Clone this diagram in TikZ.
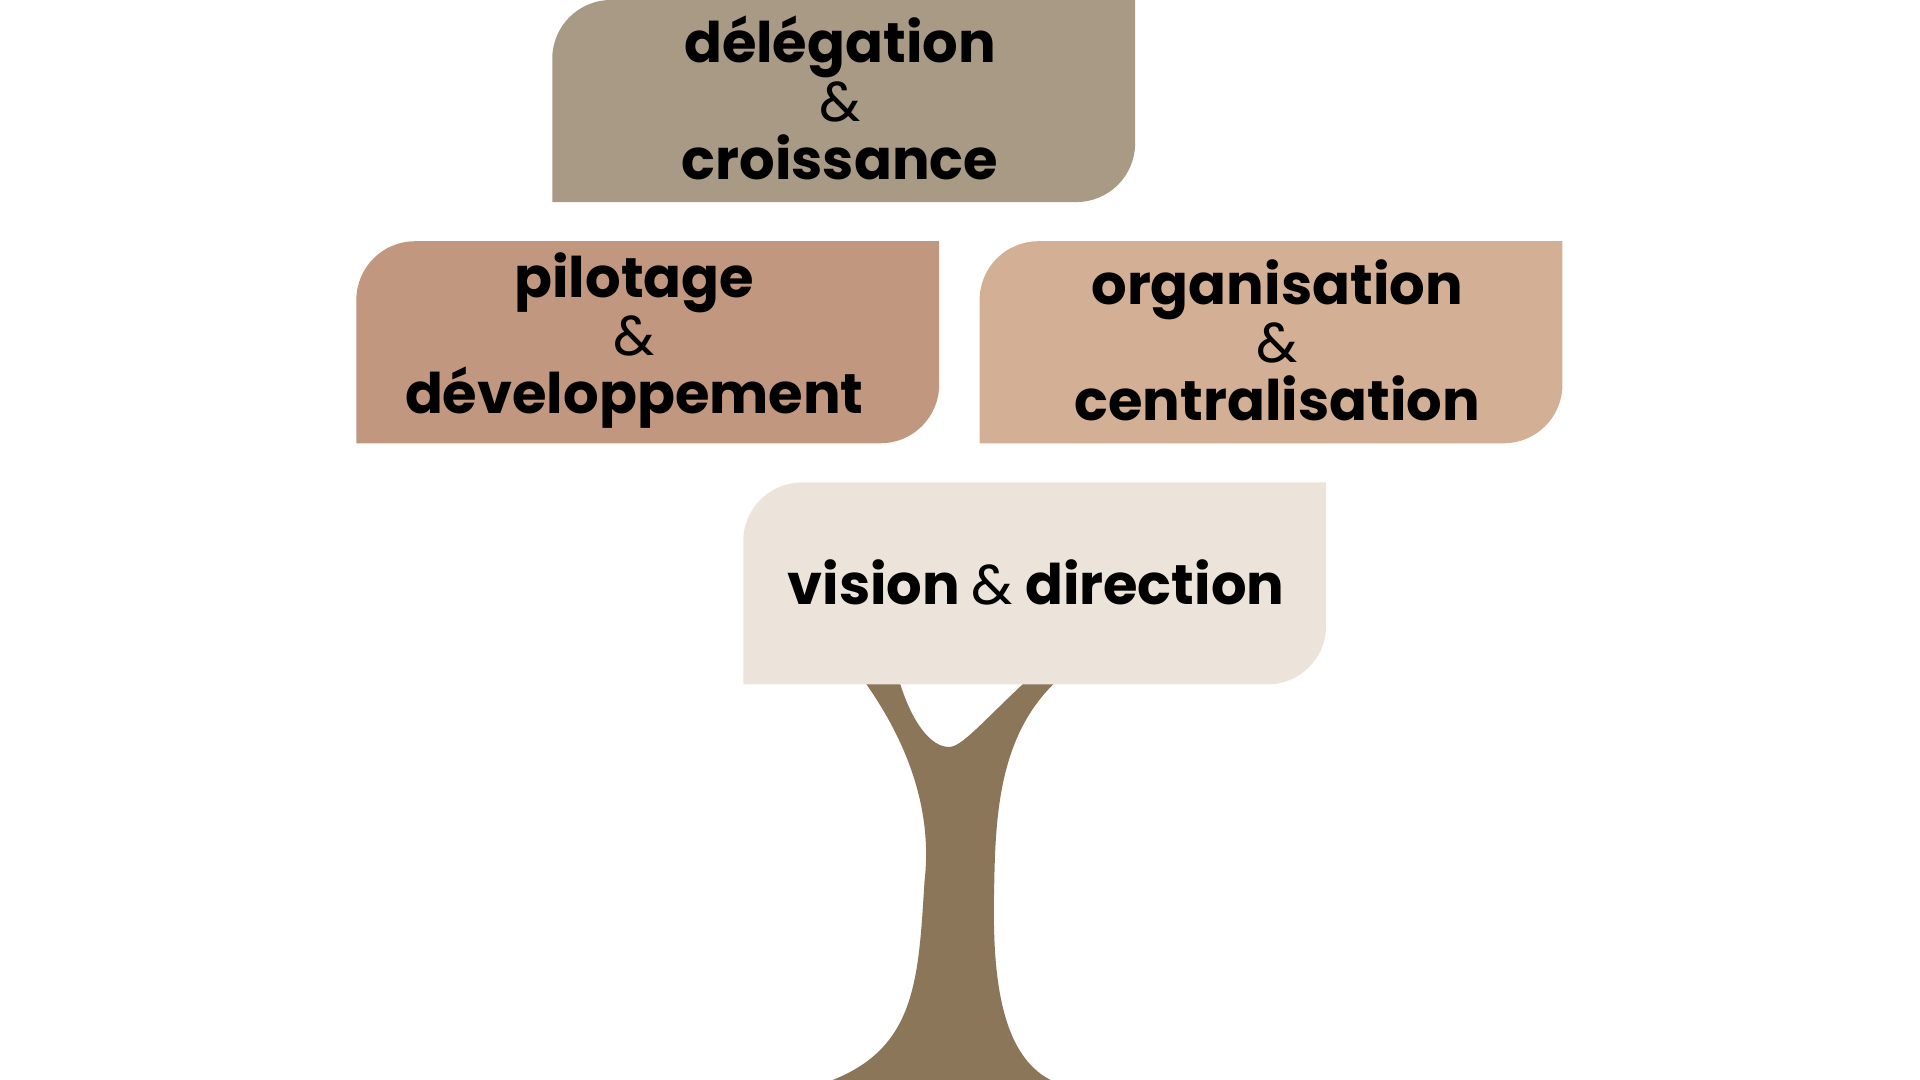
\documentclass[tikz,border=0pt]{standalone}
\usepackage{fontspec}
\setmainfont{Poppins}
\usetikzlibrary{positioning}
\definecolor{delegC}{HTML}{A89A84}
\definecolor{pilotC}{HTML}{C19780}
\definecolor{orgaC}{HTML}{D3AF95}
\definecolor{visionC}{HTML}{ECE4DA}
\definecolor{trunkC}{HTML}{8B7659}
\newcommand{\leafbox}[3]{% x, y (top left), colour
  \fill[#3] (#1,#2+165) -- (#1,#2+48) [rounded corners=48pt*0.02/0.0352] -- (#1,#2) [sharp corners] -- (#1+476,#2) -- (#1+476,#2+117)
    [rounded corners=48pt*0.02/0.0352] -- (#1+476,#2+165) [sharp corners] -- cycle;}
\begin{document}
\begin{tikzpicture}[x=0.02cm,y=-0.02cm,
  label/.style={align=center,font=\fontsize{26}{31}\selectfont\bfseries,text=black},
  amp/.style={font=\fontsize{24}{28}\selectfont\normalfont}]
\useasboundingbox (0,0) rectangle (1568,882);
% trunk
\fill[trunkC] (707,540) -- (707,558) .. controls (740,605) and (762,660) .. (755,720)
  .. controls (750,800) and (748,855) .. (680,882) -- (858,882)
  .. controls (815,860) and (810,790) .. (812,720)
  .. controls (813,660) and (818,600) .. (861,558) -- (861,540) -- (836,540) -- (836,558)
  .. controls (800,592) and (785,610) .. (775,610)
  .. controls (760,610) and (745,590) .. (735,558) -- (735,540) -- cycle;
% leaves
\leafbox{451}{0}{delegC}
\leafbox{291}{197}{pilotC}
\leafbox{800}{197}{orgaC}
\leafbox{607}{394}{visionC}
\node[label] (deleg) at (686,80) {délégation\\[-4pt]{\mdseries\&}\\[-4pt]croissance};
\node[label] (pilot) at (518,278) {pilotage\\[-4pt]{\mdseries\&}\\[-4pt]développement};
\node[label] (orga) at (1043,278) {organisation\\[-4pt]{\mdseries\&}\\[-4pt]centralisation};
\node[label] (vision) at (846,476) {vision {\mdseries\&} direction};
\end{tikzpicture}
\end{document}
